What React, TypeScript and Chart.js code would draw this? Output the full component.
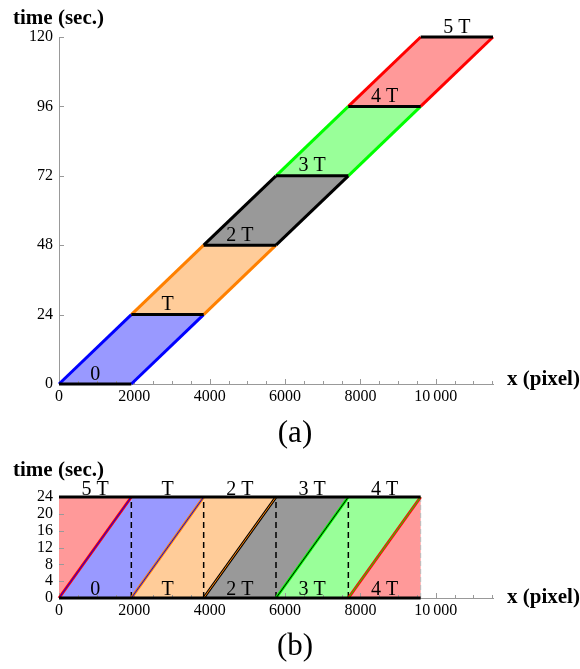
import React, { useEffect, useRef } from 'react';
import { Chart, registerables } from 'chart.js';

Chart.register(...registerables);

const PAGE_W = 580;
const SERIF = '"Liberation Serif", "Times New Roman", serif';

// ---- shared x axis
const xMin = 0;
const xMax = 11520;
const xMinorStep = 500;
const xMajorTicks = [0, 2000, 4000, 6000, 8000, 10000];
const xMajorLabels = ['0', '2000', '4000', '6000', '8000', '10\u2009000'];

// ---- colours per block (0, T, 2T, 3T, 4T)
const fillColors = ['rgb(153,153,255)', 'rgb(255,204,153)', 'rgb(153,153,153)', 'rgb(153,255,153)', 'rgb(255,153,153)'];
const edgeColors = ['rgb(0,0,255)', 'rgb(255,128,0)', 'rgb(0,0,0)', 'rgb(0,255,0)', 'rgb(255,0,0)'];

// ---- panel (a)
const blockX = [0, 1920, 3840, 5760, 7680, 9600, 11520];
const blockT = [0, 24, 48, 72, 96, 120];
const levelLabels = ['0', 'T', '2 T', '3 T', '4 T', '5 T'];
const levelLabelX = [960, 2880, 4800, 6720, 8640, 10560];
const yMaxA = 120;
const yTicksA = [0, 24, 48, 72, 96, 120];

// ---- panel (b)
const colX = [0, 1920, 3840, 5760, 7680, 9600];
const colCenterX = [960, 2880, 4800, 6720, 8640];
const colTopLabels = ['5 T', 'T', '2 T', '3 T', '4 T'];
const colBottomLabels = ['0', 'T', '2 T', '3 T', '4 T'];
const upperBlock = [4, 0, 1, 2, 3];
const lowerBlock = [0, 1, 2, 3, 4];
const diagThickBlock = [4, 1, 2, 3, 4];
const diagThinBlock = [0, 0, 1, 2, 3];
const dashedX = [1920, 3840, 5760, 7680];
const periodT = 24;
const yMaxB = 24;
const yTicksB = [0, 4, 8, 12, 16, 20, 24];

type Lbl = { x: number; y: number; text: string; dy: number };

function decorPlugin(labels: Lbl[], yTicks: number[], titleAbove: number, xTitleBelow: number) {
  return {
    id: 'decor',
    beforeDatasetsDraw(chart: any) {
      const ctx = chart.ctx;
      const xs = chart.scales.x;
      const ys = chart.scales.y;
      const a = chart.chartArea;
      ctx.save();
      ctx.strokeStyle = '#999';
      ctx.lineWidth = 1;
      for (let v = xMin; v <= xs.max; v += xMinorStep) {
        const px = Math.round(xs.getPixelForValue(v)) + 0.5;
        ctx.beginPath();
        ctx.moveTo(px, a.bottom);
        ctx.lineTo(px, a.bottom - (v % 2000 === 0 ? 5 : 3));
        ctx.stroke();
      }
      for (const v of yTicks) {
        const py = Math.round(ys.getPixelForValue(v)) + 0.5;
        ctx.beginPath();
        ctx.moveTo(a.left, py);
        ctx.lineTo(a.left + 5, py);
        ctx.stroke();
      }
      ctx.restore();
    },
    afterDraw(chart: any) {
      const ctx = chart.ctx;
      const xs = chart.scales.x;
      const ys = chart.scales.y;
      const a = chart.chartArea;
      ctx.save();
      ctx.fillStyle = '#000';
      ctx.font = `20px ${SERIF}`;
      ctx.textAlign = 'center';
      ctx.textBaseline = 'alphabetic';
      for (const l of labels) {
        ctx.fillText(l.text, xs.getPixelForValue(l.x), ys.getPixelForValue(l.y) - l.dy);
      }
      ctx.font = `bold 21px ${SERIF}`;
      ctx.textAlign = 'left';
      ctx.fillText('time (sec.)', a.left - 46, a.top - titleAbove);
      ctx.fillText('x (pixel)', a.right + 14, a.bottom + xTitleBelow);
      ctx.restore();
    },
  };
}

function makeOptions(yMax: number, yTicks: number[], padTop: number, xAxisH: number): any {
  return {
    responsive: false,
    animation: false,
    events: [],
    layout: { padding: { left: 0, right: PAGE_W - 493, top: padTop, bottom: 0 } },
    plugins: {
      legend: { display: false },
      tooltip: { enabled: false },
      filler: { drawTime: 'beforeDatasetsDraw' },
    },
    elements: { point: { radius: 0, hoverRadius: 0 }, line: { tension: 0 } },
    scales: {
      x: {
        type: 'linear',
        min: xMin,
        max: xMax,
        afterBuildTicks: (s: any) => {
          s.ticks = xMajorTicks.map((v) => ({ value: v }));
        },
        afterFit: (s: any) => {
          s.height = xAxisH;
        },
        ticks: {
          autoSkip: false,
          maxRotation: 0,
          padding: 3,
          color: '#000',
          font: { family: SERIF, size: 16 },
          callback: (v: any) => xMajorLabels[xMajorTicks.indexOf(Number(v))] ?? '',
        },
        grid: { display: false, drawTicks: false },
        border: { display: true, color: '#999', width: 1 },
      },
      y: {
        type: 'linear',
        min: 0,
        max: yMax,
        afterBuildTicks: (s: any) => {
          s.ticks = yTicks.map((v) => ({ value: v }));
        },
        afterFit: (s: any) => {
          s.width = 59;
        },
        ticks: {
          autoSkip: false,
          padding: 6,
          color: '#000',
          font: { family: SERIF, size: 16 },
        },
        grid: { display: false, drawTicks: false },
        border: { display: true, color: '#999', width: 1 },
      },
    },
  };
}

function seg(x0: number, y0: number, x1: number, y1: number, color: string, width: number, order: number, dash: number[] = []) {
  return {
    data: [
      { x: x0, y: y0 },
      { x: x1, y: y1 },
    ],
    borderColor: color,
    borderWidth: width,
    borderDash: dash,
    fill: false,
    pointRadius: 0,
    order,
    clip: false,
  };
}

function poly(points: { x: number; y: number }[], color: string, order: number) {
  return {
    data: [...points, points[0]],
    backgroundColor: color,
    borderColor: 'rgba(0,0,0,0)',
    borderWidth: 0,
    fill: 'shape',
    pointRadius: 0,
    order,
    clip: false,
  };
}

function buildA(): any {
  const datasets: any[] = [];
  let o = 0;
  for (let k = 0; k < 5; k++) {
    datasets.push(
      poly(
        [
          { x: blockX[k], y: blockT[k] },
          { x: blockX[k + 1], y: blockT[k] },
          { x: blockX[k + 2], y: blockT[k + 1] },
          { x: blockX[k + 1], y: blockT[k + 1] },
        ],
        fillColors[k],
        -o++,
      ),
    );
  }
  for (let k = 0; k < 5; k++) {
    datasets.push(seg(blockX[k], blockT[k], blockX[k + 1], blockT[k + 1], edgeColors[k], 3, -o++));
    datasets.push(seg(blockX[k + 1], blockT[k], blockX[k + 2], blockT[k + 1], edgeColors[k], 3, -o++));
  }
  for (let k = 0; k < 6; k++) {
    datasets.push(seg(blockX[k], blockT[k], blockX[k + 1], blockT[k], '#000', 3, -o++));
  }
  const labels: Lbl[] = levelLabels.map((t, i) => ({ x: levelLabelX[i], y: blockT[i], text: t, dy: 4.5 }));
  return {
    type: 'line',
    data: { datasets },
    options: makeOptions(yMaxA, yTicksA, 37, 420 - 384),
    plugins: [decorPlugin(labels, yTicksA, 13, 1)],
  };
}

function buildB(): any {
  const datasets: any[] = [];
  let o = 0;
  for (let k = 0; k < 5; k++) {
    datasets.push(
      poly(
        [
          { x: colX[k], y: 0 },
          { x: colX[k], y: periodT },
          { x: colX[k + 1], y: periodT },
        ],
        fillColors[upperBlock[k]],
        -o++,
      ),
    );
    datasets.push(
      poly(
        [
          { x: colX[k], y: 0 },
          { x: colX[k + 1], y: periodT },
          { x: colX[k + 1], y: 0 },
        ],
        fillColors[lowerBlock[k]],
        -o++,
      ),
    );
  }
  for (const x of dashedX) datasets.push(seg(x, 0, x, periodT, '#000', 1.5, -o++, [6, 4]));
  datasets.push(seg(colX[5], 0, colX[5], periodT, '#bbb', 1, -o++, [5, 3]));
  for (let k = 0; k < 5; k++) {
    datasets.push(seg(colX[k], 0, colX[k + 1], periodT, edgeColors[diagThickBlock[k]], 3, -o++));
    datasets.push(seg(colX[k], 0, colX[k + 1], periodT, edgeColors[diagThinBlock[k]], 1, -o++));
  }
  datasets.push(seg(colX[0], 0, colX[5], 0, '#000', 3, -o++));
  datasets.push(seg(colX[0], periodT, colX[5], periodT, '#000', 3, -o++));

  const labels: Lbl[] = [
    ...colTopLabels.map((t, i) => ({ x: colCenterX[i], y: periodT, text: t, dy: 2.5 })),
    ...colBottomLabels.map((t, i) => ({ x: colCenterX[i], y: 0, text: t, dy: 3 })),
  ];
  return {
    type: 'line',
    data: { datasets },
    options: makeOptions(yMaxB, yTicksB, 47, 180 - 148),
    plugins: [decorPlugin(labels, yTicksB, 21.5, 5)],
  };
}

function ChartCanvas({ top, height, build }: { top: number; height: number; build: () => any }) {
  const ref = useRef<HTMLCanvasElement>(null);
  useEffect(() => {
    const chart = new Chart(ref.current as HTMLCanvasElement, build());
    return () => chart.destroy();
  }, []);
  return (
    <canvas
      ref={ref}
      width={PAGE_W}
      height={height}
      style={{ position: 'absolute', left: 0, top, width: PAGE_W, height, display: 'block' }}
    />
  );
}

const capStyle: React.CSSProperties = {
  position: 'absolute',
  left: 0,
  width: 590,
  textAlign: 'center',
  fontFamily: SERIF,
  fontSize: 31,
  lineHeight: '34px',
  color: '#000',
};

export default function App() {
  return (
    <div style={{ position: 'fixed', left: 0, top: 0, width: PAGE_W, height: 669, background: '#fff', overflow: 'hidden' }}>
      <ChartCanvas top={0} height={420} build={buildA} />
      <ChartCanvas top={450} height={180} build={buildB} />
      <div style={{ ...capStyle, top: 415 }}>(a)</div>
      <div style={{ ...capStyle, top: 628 }}>(b)</div>
    </div>
  );
}
